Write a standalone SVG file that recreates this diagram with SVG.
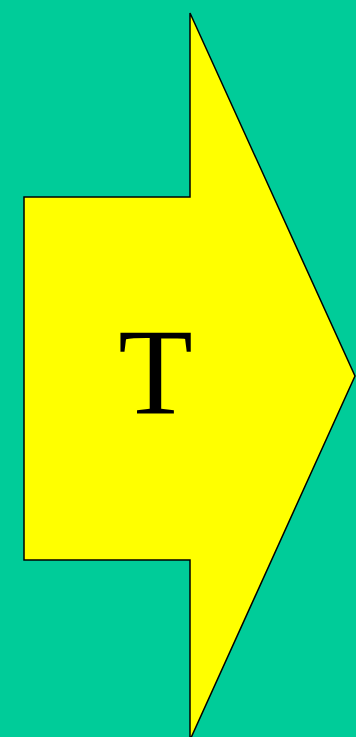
<svg xmlns="http://www.w3.org/2000/svg" width="356" height="737" viewBox="0 0 356 737">
<style>
.shape{fill:#ffff00;stroke:#000000;stroke-width:1.5;stroke-linejoin:miter}
.lbl{font-family:"Liberation Serif","Times New Roman",serif;font-size:122px;fill:#000000;text-anchor:middle}
</style>
<rect x="0" y="0" width="356" height="737" fill="#00cc99"/>
<g id="arrow">
<polygon class="shape" points="190,13 190,197 24,197 24,560 190,560 190,740 355,376"/>
<text class="lbl" x="155.5" y="413">T</text>
</g>
</svg>
